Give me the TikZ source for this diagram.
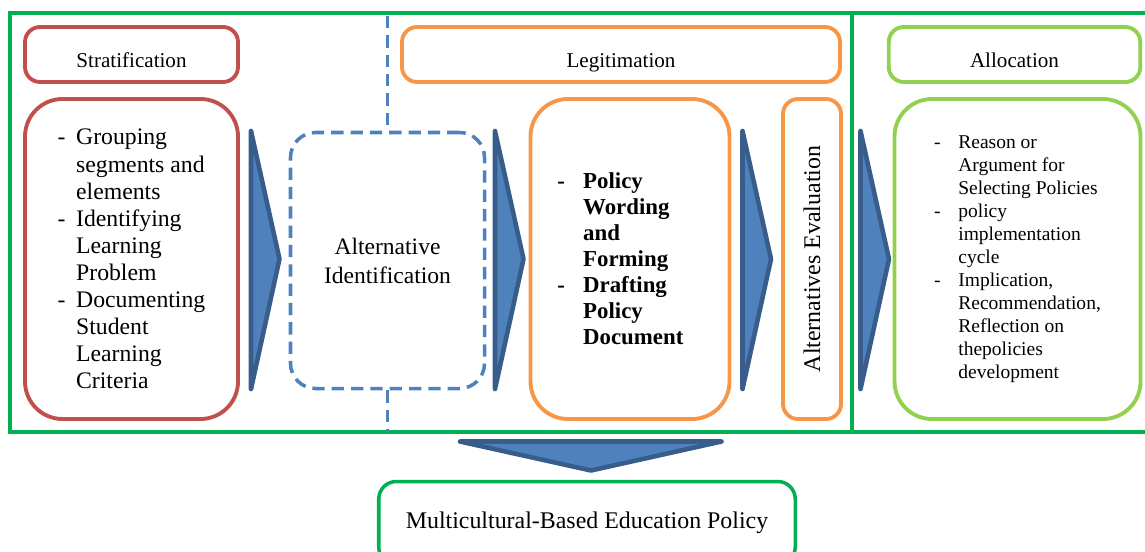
\documentclass[tikz,border=0pt]{standalone}
\usepackage{fontspec}
\setmainfont{Liberation Serif}
\usepackage{xcolor}
\definecolor{stratred}{RGB}{192, 80, 77}
\definecolor{legorange}{RGB}{247, 150, 70}
\definecolor{allocgreen}{RGB}{146, 208, 80}
\definecolor{framegreen}{RGB}{0, 176, 80}
\definecolor{arrowfill}{RGB}{79, 129, 189}
\definecolor{arrowline}{RGB}{56, 93, 138}
\usetikzlibrary{positioning}

% list lines: a dash, or the same gap for a wrapped line
\newcommand{\dashitem}[1][10.5pt]{\makebox[#1][l]{-}}
\newcommand{\hangline}[1][10.5pt]{\hspace*{#1}}

\tikzset{
  headbox/.style={draw, line width=2.2pt, rounded corners=0.3cm,
    minimum height=1.1cm, text height=0.5cm, text depth=0cm,
    font=\fontsize{12}{14}\selectfont},
  bodybox/.style={draw, line width=2.2pt, rounded corners=0.75cm,
    minimum height=6.4cm, align=left},
  chevron/.style={draw=arrowline, fill=arrowfill, line width=2.6pt, line join=round},
  framestroke/.style={draw=framegreen, line width=1.8pt},
  dashedblue/.style={draw=arrowfill, line width=2pt, dash pattern=on 7pt off 4pt}
}

\begin{document}
\begin{tikzpicture}
  \useasboundingbox (0,0) rectangle (22.9,-11.02);

  % outer frame and its divider
  \draw[framestroke] (23.2,-0.26) -- (0.2,-0.26) -- (0.2,-8.64) -- (23.2,-8.64);
  \draw[framestroke] (17.04,-0.26) -- (17.04,-8.64);

  % phase headers
  \node[headbox, draw=stratred, minimum width=4.26cm] (strat) at (2.63,-1.09) {Stratification};
  \node[headbox, draw=legorange, minimum width=8.76cm] (legit) at (12.42,-1.09) {Legitimation};
  \node[headbox, draw=allocgreen, minimum width=5.03cm] (alloc) at (20.29,-1.09) {Allocation};

  % phase contents
  \node[bodybox, draw=stratred, minimum width=4.26cm,
    font=\fontsize{13.5}{15.4}\selectfont] (group) at (2.63,-5.18) {
    \dashitem Grouping\\
    \hangline segments and\\
    \hangline elements\\
    \dashitem Identifying\\
    \hangline Learning\\
    \hangline Problem\\
    \dashitem Documenting\\
    \hangline Student\\
    \hangline Learning\\
    \hangline Criteria};

  \node[dashedblue, rounded corners=0.5cm, minimum width=3.88cm, minimum height=5.12cm,
    align=center, font=\fontsize{13.4}{16.5}\selectfont] (altid) at (7.75,-5.21)
    {Alternative\\Identification};
  \draw[dashedblue] (7.75,-0.32) -- (altid.north);
  \draw[dashedblue] (altid.south) -- (7.75,-8.64);

  \node[bodybox, draw=legorange, minimum width=3.98cm,
    font=\bfseries\fontsize{13}{14.8}\selectfont] (draft) at (12.6,-5.18) {
    \dashitem[11.5pt] Policy\\
    \hangline[11.5pt] Wording\\
    \hangline[11.5pt] and\\
    \hangline[11.5pt] Forming\\
    \dashitem[11.5pt] Drafting\\
    \hangline[11.5pt] Policy\\
    \hangline[11.5pt] Document\hspace*{11pt}};

  \node[draw=legorange, line width=2.2pt, rounded corners=0.3cm, rotate=90,
    minimum width=6.4cm, minimum height=1.16cm,
    font=\fontsize{13.6}{16}\selectfont] (altev) at (16.24,-5.18) {Alternatives Evaluation};

  \node[bodybox, draw=allocgreen, minimum width=4.92cm,
    font=\fontsize{11.1}{13.1}\selectfont] (reason) at (20.35,-5.18) {
    \dashitem[11pt] Reason or\\
    \hangline[11pt] Argument for\\
    \hangline[11pt] Selecting Policies\\
    \dashitem[11pt] policy\\
    \hangline[11pt] implementation\\
    \hangline[11pt] cycle\\
    \dashitem[11pt] Implication,\\
    \hangline[11pt] Recommendation,\hspace*{7pt}\\
    \hangline[11pt] Reflection on\\
    \hangline[11pt] thepolicies\\
    \hangline[11pt] development};

  % block arrows between the phases
  \foreach \x in {5.02, 9.9, 14.85, 17.21}
    \draw[chevron] (\x,-2.62) -- ++(0.57,-2.56) -- ++(-0.57,-2.6) -- cycle;
  \draw[chevron] (9.2,-8.83) -- (14.43,-8.83) -- (11.82,-9.41) -- cycle;

  % result
  \node[draw=framegreen, line width=2pt, rounded corners=0.35cm,
    minimum width=8.33cm, minimum height=1.66cm,
    font=\fontsize{13.6}{16}\selectfont] (mbep) at (11.74,-10.46)
    {Multicultural-Based Education Policy};
\end{tikzpicture}
\end{document}
